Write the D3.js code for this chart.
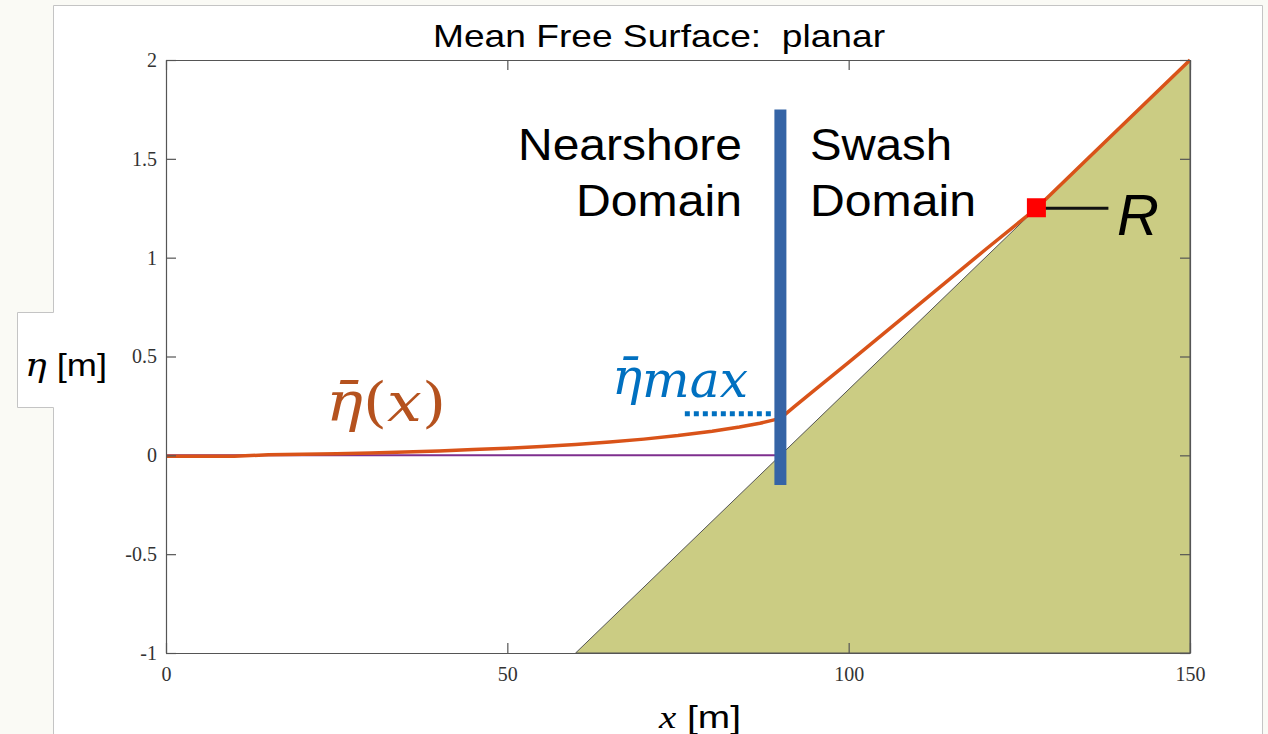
<!DOCTYPE html>
<html><head><meta charset="utf-8">
<script src="https://cdn.jsdelivr.net/npm/d3@7"></script>
<style>
html,body{margin:0;padding:0;background:#fafaf5;}
svg{display:block;}
text{white-space:pre;}
</style></head>
<body>
<svg id="c" width="1268" height="734"></svg>
<script>
// ---- data ----
const xTicks = [0, 50, 100, 150];
const yTicks = [-1, -0.5, 0, 0.5, 1, 1.5, 2];
const yTickLabels = ["-1", "-0.5", "0", "0.5", "1", "1.5", "2"];
const xDomain = [0, 150];
const yDomain = [-1, 2];
// mean free surface eta-bar(x)
const etaX = [0, 10, 15, 20, 25, 30, 35, 40, 45, 50, 55, 60, 65, 70, 75, 80, 84, 87, 90, 92, 95, 100, 110, 120, 127.5, 135, 150];
const etaY = [-0.005, -0.005, 0.003, 0.005, 0.008, 0.012, 0.017, 0.022, 0.029, 0.036, 0.045, 0.055, 0.067, 0.082, 0.1, 0.122, 0.143, 0.162, 0.187, 0.245, 0.33, 0.47, 0.755, 1.04, 1.25, 1.5, 2.0];
// still water level
const swlX = [0, 90];
const swlY = [0, 0];
// planar beach profile
const beachX = [60, 150, 150];
const beachY = [-1, 2, -1];
// annotations
const domainBoundaryX = 90;
const domainBoundaryY = [-0.15, 1.75];
const runupX = 127.5, runupY = 1.25;
const etaMaxX = [76, 90];
const etaMaxY = 0.21;

const svg = d3.select("#c");
const x = d3.scaleLinear().domain(xDomain).range([166, 1190]);
const y = d3.scaleLinear().domain(yDomain).range([653, 60]);

// figure panel (white) with notch for y-label
svg.append("path")
  .attr("d", "M53.5,5.5 H1262.5 V740 H53.5 V407.5 H17.5 V312.5 H53.5 Z")
  .attr("fill", "#ffffff").attr("stroke", "#c4c4c4").attr("stroke-width", 1);

// beach
svg.append("path")
  .datum(beachX.map((d, i) => [d, beachY[i]]))
  .attr("d", d3.line().x(d => x(d[0])).y(d => y(d[1])).curve(d3.curveLinearClosed))
  .attr("fill", "#cbcc83").attr("stroke", "#555").attr("stroke-width", 1);

// still water line
svg.append("path")
  .datum(swlX.map((d, i) => [d, swlY[i]]))
  .attr("d", d3.line().x(d => x(d[0])).y(d => y(d[1])))
  .attr("fill", "none").attr("stroke", "#7e2f8e").attr("stroke-width", 2);

// eta bar
svg.append("path")
  .datum(etaX.map((d, i) => [d, etaY[i]]))
  .attr("d", d3.line().x(d => x(d[0])).y(d => y(d[1])))
  .attr("fill", "none").attr("stroke", "#d95319").attr("stroke-width", 3.5).attr("stroke-linejoin", "round");

// axes box
const g = svg.append("g");
const axL = g.append("g").attr("transform", `translate(${x(0)},0)`)
  .call(d3.axisLeft(y).tickValues(yTicks).tickFormat(d => yTickLabels[yTicks.indexOf(d)]).tickSizeInner(-10).tickSizeOuter(0).tickPadding(9));
const axB = g.append("g").attr("transform", `translate(0,${y(-1)})`)
  .call(d3.axisBottom(x).tickValues(xTicks).tickFormat(d3.format("d")).tickSizeInner(-10).tickSizeOuter(0).tickPadding(14));
const axT = g.append("g").attr("transform", `translate(0,${y(2)})`)
  .call(d3.axisTop(x).tickValues(xTicks).tickFormat("").tickSizeInner(-10).tickSizeOuter(0));
const axR = g.append("g").attr("transform", `translate(${x(150)},0)`)
  .call(d3.axisRight(y).tickValues(yTicks).tickFormat("").tickSizeInner(-10).tickSizeOuter(0));
g.selectAll(".domain").attr("stroke", "#555").attr("stroke-width", 1.2);
g.selectAll(".tick line").attr("stroke", "#555").attr("stroke-width", 1.2);
g.selectAll(".tick text").attr("font-family", "'Liberation Serif', serif").attr("font-size", 20).attr("fill", "#333");
axB.selectAll(".tick text").attr("dy", "0.71em");

// domain boundary bar
svg.append("line")
  .attr("x1", x(domainBoundaryX)).attr("x2", x(domainBoundaryX))
  .attr("y1", y(domainBoundaryY[0])).attr("y2", y(domainBoundaryY[1]))
  .attr("stroke", "#3564a6").attr("stroke-width", 12);

// eta max dotted
svg.append("line")
  .attr("x1", x(etaMaxX[0])).attr("x2", x(etaMaxX[1]) - 6)
  .attr("y1", y(etaMaxY)).attr("y2", y(etaMaxY))
  .attr("stroke", "#0070c0").attr("stroke-width", 5).attr("stroke-dasharray", "5,4");

// runup marker
svg.append("line")
  .attr("x1", x(runupX)).attr("x2", x(runupX) + 72)
  .attr("y1", y(runupY)).attr("y2", y(runupY))
  .attr("stroke", "#111").attr("stroke-width", 3);
svg.append("rect")
  .attr("x", x(runupX) - 9.5).attr("y", y(runupY) - 10)
  .attr("width", 19).attr("height", 19).attr("fill", "#ff0000");

// texts
const sans = "'Liberation Sans', Arial, sans-serif";
function txt(t, px, py, size, opts = {}) {
  const e = svg.append("text").attr("x", px).attr("y", py).text(t)
    .attr("font-family", opts.family || sans).attr("font-size", size)
    .attr("fill", opts.fill || "#000").attr("text-anchor", opts.anchor || "start");
  if (opts.style) e.attr("font-style", opts.style);
  if (opts.len) e.attr("textLength", opts.len).attr("lengthAdjust", "spacingAndGlyphs");
  return e;
}
txt("Mean Free Surface:\u00A0 planar", 433, 47, 32, {len: 452});
txt("Nearshore", 742, 160, 44, {anchor: "end", len: 224});
txt("Domain", 742, 216, 44, {anchor: "end", len: 166});
txt("Swash", 810, 160, 44, {len: 142});
txt("Domain", 810, 216, 44, {len: 166});
txt("R", 1117, 235, 58, {style: "italic"});

// eta bar (x) label
const e1 = svg.append("text").attr("x", 326).attr("y", 421)
  .attr("font-family", "'DejaVu Serif', serif").attr("font-size", 54).attr("fill", "#b5521e");
e1.append("tspan").attr("font-style", "italic").text("\u03B7\u0304");
e1.append("tspan").text("(");
e1.append("tspan").attr("font-style", "italic").text("x");
e1.append("tspan").text(")");
e1.attr("textLength", 120).attr("lengthAdjust", "spacingAndGlyphs");

const e2 = svg.append("text").attr("x", 612).attr("y", 394)
  .attr("font-family", "'DejaVu Serif', serif").attr("font-size", 50).attr("fill", "#0070c0").attr("font-style", "italic");
e2.append("tspan").text("\u03B7\u0304");
e2.append("tspan").attr("dy", 3).text("max");
e2.attr("textLength", 136).attr("lengthAdjust", "spacingAndGlyphs");

// axis labels
const yl = svg.append("text").attr("x", 25).attr("y", 376).attr("font-size", 32).attr("fill", "#000");
yl.append("tspan").attr("font-family", "'DejaVu Serif', serif").attr("font-style", "italic").text("\u03B7");
yl.append("tspan").attr("font-family", sans).text(" [m]");
yl.attr("textLength", 82).attr("lengthAdjust", "spacingAndGlyphs");

const xl = svg.append("text").attr("x", 659).attr("y", 728).attr("font-size", 32).attr("fill", "#000");
xl.append("tspan").attr("font-family", "'Liberation Serif', serif").attr("font-style", "italic").text("x");
xl.append("tspan").attr("font-family", sans).text(" [m]");
xl.attr("textLength", 82).attr("lengthAdjust", "spacingAndGlyphs");
</script>
</body></html>
